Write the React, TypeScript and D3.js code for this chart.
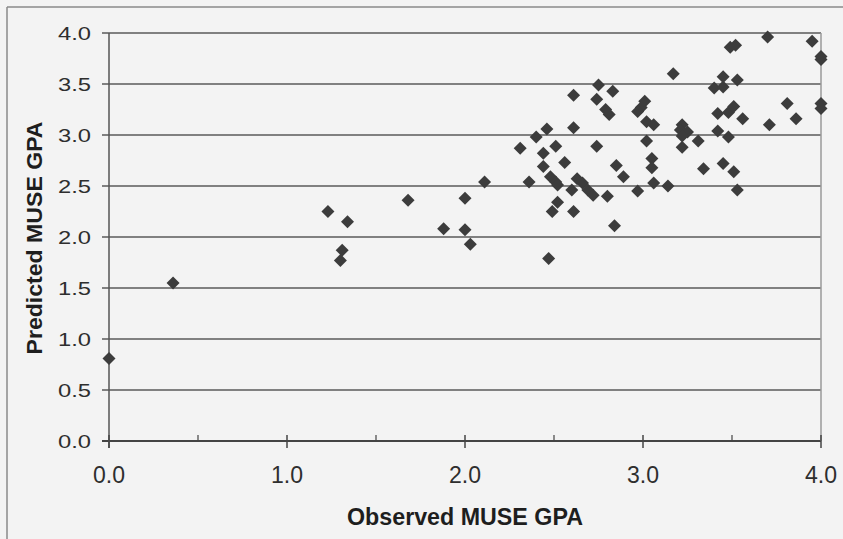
import React from "react";
import * as d3 from "d3";

const observedGPA: number[] = [
  0.0, 0.36, 1.23, 1.34, 1.31, 1.3, 1.68, 1.88, 2.0, 2.0, 2.03, 2.11, 2.47, 2.36,
  2.31, 2.4, 2.46, 2.51, 2.44, 2.56, 2.44, 2.48, 2.51, 2.52, 2.63, 2.66, 2.69, 2.72, 2.6, 2.52,
  2.49, 2.61, 2.61, 2.61, 2.74, 2.75, 2.83, 2.79, 2.81, 2.74, 2.8, 2.84, 2.85, 2.89,
  3.01, 2.99, 2.97, 3.02, 3.06, 3.02, 3.05, 3.05, 3.06, 3.14, 2.97, 3.17, 3.22, 3.21,
  3.25, 3.22, 3.22, 3.31, 3.34, 3.45, 3.51, 3.53, 3.42, 3.48, 3.42, 3.48, 3.51, 3.56,
  3.4, 3.45, 3.45, 3.53, 3.49, 3.52, 3.7, 3.95, 4.0, 4.0, 3.81, 4.0, 4.0, 3.86, 3.71,
];

const predictedGPA: number[] = [
  0.81, 1.55, 2.25, 2.15, 1.87, 1.77, 2.36, 2.08, 2.38, 2.07, 1.93, 2.54, 1.79, 2.54,
  2.87, 2.98, 3.06, 2.89, 2.82, 2.73, 2.69, 2.59, 2.54, 2.51, 2.57, 2.53, 2.46, 2.41, 2.46, 2.34,
  2.25, 2.25, 3.07, 3.39, 3.35, 3.49, 3.43, 3.25, 3.2, 2.89, 2.4, 2.11, 2.7, 2.59,
  3.33, 3.27, 3.23, 3.13, 3.1, 2.94, 2.77, 2.68, 2.53, 2.5, 2.45, 3.6, 3.1, 3.05,
  3.03, 2.99, 2.88, 2.94, 2.67, 2.72, 2.64, 2.46, 3.04, 2.98, 3.21, 3.22, 3.28, 3.16,
  3.46, 3.47, 3.57, 3.54, 3.86, 3.88, 3.96, 3.92, 3.77, 3.74, 3.31, 3.31, 3.26, 3.16, 3.1,
];

const yTicks: number[] = [0, 0.5, 1, 1.5, 2, 2.5, 3, 3.5, 4];
const xMajorTicks: number[] = [0, 1, 2, 3, 4];
const xMinorTicks: number[] = [0.5, 1.5, 2.5, 3.5];
const xTitle = "Observed MUSE GPA";
const yTitle = "Predicted MUSE GPA";

export default function App() {
  const W = 843;
  const H = 539;
  const x = d3.scaleLinear().domain([0, 4]).range([109, 821]);
  const y = d3.scaleLinear().domain([0, 4]).range([441, 33]);
  const points = observedGPA.map((v, i) => ({ x: v, y: predictedGPA[i] }));
  const r = 6.5;
  const diamond = (cx: number, cy: number) =>
    `M${cx},${cy - r}L${cx + r},${cy}L${cx},${cy + r}L${cx - r},${cy}Z`;
  const font = "'Liberation Sans', Arial, sans-serif";

  return (
    <svg
      width={W}
      height={H}
      style={{ position: "absolute", left: 0, top: 0, background: "#f3f3f3" }}
    >
      <rect x={0} y={0} width={W} height={H} fill="#f3f3f3" />
      {/* outer frame */}
      <line x1={7} y1={7} x2={W} y2={7} stroke="#8a8a8a" strokeWidth={1.5} />
      <line x1={7} y1={7} x2={7} y2={H} stroke="#8a8a8a" strokeWidth={1.5} />

      {/* gridlines */}
      {yTicks.map((t) => (
        <line
          key={"g" + t}
          x1={102}
          x2={x(4)}
          y1={y(t)}
          y2={y(t)}
          stroke={t === 0 ? "#444" : "#5a5a5a"}
          strokeWidth={t === 0 ? 2 : 1.5}
        />
      ))}
      {/* right border */}
      <line x1={x(4)} x2={x(4)} y1={y(4)} y2={y(0)} stroke="#9a9a9a" strokeWidth={1.5} />
      {/* y axis */}
      <line x1={x(0)} x2={x(0)} y1={y(4)} y2={y(0) + 7} stroke="#555" strokeWidth={1.5} />

      {/* x ticks */}
      {xMajorTicks.map((t) => (
        <line key={"M" + t} x1={x(t)} x2={x(t)} y1={y(0) - 6} y2={y(0) + 7} stroke="#444" strokeWidth={1.5} />
      ))}
      {xMinorTicks.map((t) => (
        <line key={"m" + t} x1={x(t)} x2={x(t)} y1={y(0) - 6} y2={y(0)} stroke="#444" strokeWidth={1.2} />
      ))}

      {/* y tick labels */}
      {yTicks.map((t) => (
        <text
          key={"yl" + t}
          x={91}
          y={y(t) + 7}
          textAnchor="end"
          fontFamily={font}
          fontSize={19}
          fill="#2e2e2e"
          textLength={33}
          lengthAdjust="spacingAndGlyphs"
        >
          {d3.format(".1f")(t)}
        </text>
      ))}

      {/* x tick labels */}
      {xMajorTicks.map((t) => (
        <text
          key={"xl" + t}
          x={x(t)}
          y={483}
          textAnchor="middle"
          fontFamily={font}
          fontSize={23}
          fill="#2e2e2e"
          textLength={32}
          lengthAdjust="spacingAndGlyphs"
        >
          {d3.format(".1f")(t)}
        </text>
      ))}

      {/* points */}
      {points.map((p, i) => (
        <path key={"p" + i} d={diamond(x(p.x), y(p.y))} fill="#3c3c3c" />
      ))}

      {/* axis titles */}
      <text
        x={465}
        y={525}
        textAnchor="middle"
        fontFamily={font}
        fontWeight="bold"
        fontSize={23}
        fill="#1e1e1e"
        textLength={236}
        lengthAdjust="spacingAndGlyphs"
      >
        {xTitle}
      </text>
      <text
        transform="translate(42,238) rotate(-90)"
        textAnchor="middle"
        fontFamily={font}
        fontWeight="bold"
        fontSize={22}
        fill="#1e1e1e"
        textLength={233}
        lengthAdjust="spacingAndGlyphs"
      >
        {yTitle}
      </text>
    </svg>
  );
}
